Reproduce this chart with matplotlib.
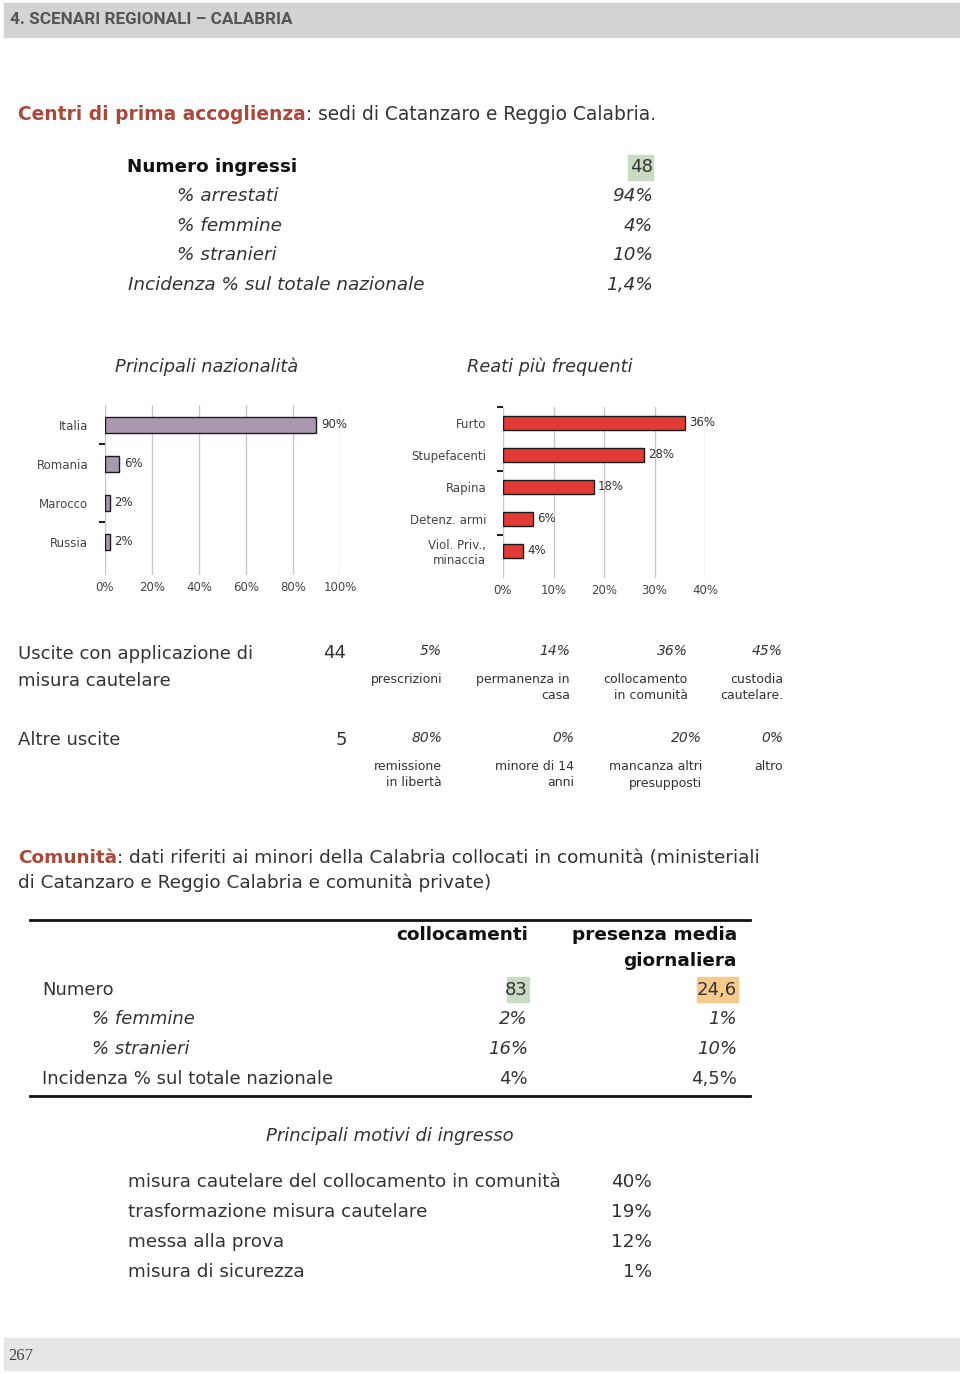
import matplotlib
matplotlib.use('Agg')
import matplotlib.pyplot as plt
from matplotlib.patches import Rectangle

plt.rcParams['font.family'] = ['DejaVu Sans']

W, H = 960, 1374

# ---- data ----
ingressi_labels = ['% arrestati', '% femmine', '% stranieri', 'Incidenza % sul totale nazionale']
ingressi_values = ['94%', '4%', '10%', '1,4%']
numero_ingressi = 48

naz_labels = ['Italia', 'Romania', 'Marocco', 'Russia']
naz_values = [90, 6, 2, 2]

reati_labels = ['Furto', 'Stupefacenti', 'Rapina', 'Detenz. armi', 'Viol. Priv.,\nminaccia']
reati_values = [36, 28, 18, 6, 4]

uscite_misura = 44
uscite_misura_pct = ['5%', '14%', '36%', '45%']
uscite_misura_lab = ['prescrizioni', 'permanenza in\ncasa', 'collocamento\nin comunità', 'custodia\ncautelare.']
altre_uscite = 5
altre_pct = ['80%', '0%', '20%', '0%']
altre_lab = ['remissione\nin libertà', 'minore di 14\nanni', 'mancanza altri\npresupposti', 'altro']

com_rows = ['Numero', '% femmine', '% stranieri', 'Incidenza % sul totale nazionale']
com_colloc = ['83', '2%', '16%', '4%']
com_presenza = ['24,6', '1%', '10%', '4,5%']

motivi_labels = ['misura cautelare del collocamento in comunità', 'trasformazione misura cautelare',
                 'messa alla prova', 'misura di sicurezza']
motivi_values = ['40%', '19%', '12%', '1%']

TXT = '#333333'
RED = '#A9493A'

fig = plt.figure(figsize=(W / 100, H / 100), dpi=100)


def fx(x):
    return x / W


def fy(y):
    return 1 - y / H


def txt(x, y, s, size=12.5, ha='left', va='center', **kw):
    kw.setdefault('color', TXT)
    return fig.text(fx(x), fy(y), s, fontsize=size, ha=ha, va=va, **kw)


def box(x0, y0, x1, y1, color):
    fig.patches.append(Rectangle((fx(x0), fy(y1)), fx(x1) - fx(x0), fy(y0) - fy(y1),
                                 transform=fig.transFigure, color=color, zorder=0))


# header / footer bands
box(4, 3, 960, 37, '#D3D3D3')
txt(10, 20, '4. SCENARI REGIONALI – CALABRIA', size=12.3, weight='bold', color='#555555',
    family=['Roboto', 'DejaVu Sans'])
box(4, 1338, 960, 1370, '#E6E6E7')
txt(8, 1356, '267', size=12, color='#444444', family=['Liberation Serif'])

# ---- Centri di prima accoglienza ----
t = txt(18, 115, 'Centri di prima accoglienza', size=13.4, weight='bold', color=RED)
fig.canvas.draw()
bb = t.get_window_extent()
txt(bb.x1, 115, ': sedi di Catanzaro e Reggio Calabria.', size=13.4, color=TXT)

txt(127, 167, 'Numero ingressi', size=13.2, weight='bold', color='#111111')
box(628, 155, 653, 180, '#C9DCC3')
txt(653, 167, str(numero_ingressi), size=13, ha='right')
ing_y = [196, 226, 255, 285]
for i, (lab, val) in enumerate(zip(ingressi_labels, ingressi_values)):
    x = 128 if i == 3 else 177
    txt(x, ing_y[i], lab, size=13.2, style='italic')
    txt(653, ing_y[i], val, size=13.2, style='italic', ha='right')

# ---- chart titles ----
txt(207, 367, 'Principali nazionalità', size=12.8, style='italic', ha='center')
txt(550, 367, 'Reati più frequenti', size=12.8, style='italic', ha='center')


def bar_chart(rect, labels, values, xmax, step, color, minor, ybot):
    ax = fig.add_axes(rect)
    pos = list(range(len(labels)))
    ax.barh(pos, [v / 100 for v in values], height=0.42, color=color,
            edgecolor='#1a1a1a', linewidth=1, zorder=3)
    for p, v in zip(pos, values):
        ax.text(v / 100 + xmax * 0.02, p, f'{v}%', fontsize=8.5, va='center', color='#333333')
    ax.set_xlim(0, xmax)
    ax.set_ylim(ybot, -0.5)
    ticks = [i * step for i in range(int(round(xmax / step)) + 1)]
    ax.set_xticks(ticks)
    ax.set_xticklabels([f'{round(t * 100)}%' for t in ticks], fontsize=8.5, color='#444444')
    ax.set_yticks(pos)
    ax.set_yticklabels(labels, fontsize=8.5, color='#444444')
    ax.set_yticks(minor, minor=True)
    ax.tick_params(axis='y', which='major', length=0, pad=12)
    ax.tick_params(axis='y', which='minor', length=4, width=1.5, color='#222222')
    ax.tick_params(axis='x', length=0, pad=4)
    ax.xaxis.grid(True, color='#C8C8C8', linewidth=1, zorder=0)
    for s in ax.spines.values():
        s.set_visible(False)
    ax.set_facecolor('none')
    return ax


# nationality: 0% at x=105, 100% at x=340 ; rows 39 px apart starting at 425
bar_chart([fx(105), fy(575), (340 - 105) / W, (575 - 405.5) / H], naz_labels, naz_values,
          1.0, 0.2, '#A898B0', [0.5, 2.5], 3.85)
# reati: 0% at x=503, 40% at x=705 ; rows 32 px apart starting at 423
bar_chart([fx(503), fy(578), (705 - 503) / W, (578 - 407) / H], reati_labels, reati_values,
          0.4, 0.1, '#E23A36', [-0.5, 1.5, 3.5], 4.85)

# ---- uscite ----
txt(18, 654, 'Uscite con applicazione di', size=13)
txt(18, 681, 'misura cautelare', size=13)
txt(335, 653, str(uscite_misura), size=13, ha='center')
col_r = [442, 570, 688, 783]
for x, p, lab in zip(col_r, uscite_misura_pct, uscite_misura_lab):
    txt(x, 651, p, size=10, style='italic', ha='right')
    txt(x, 673, lab, size=9, ha='right', va='top', multialignment='right', linespacing=1.35)

txt(18, 740, 'Altre uscite', size=13)
txt(341, 740, str(altre_uscite), size=13, ha='center')
col_r2 = [442, 574, 702, 783]
for x, p, lab in zip(col_r2, altre_pct, altre_lab):
    txt(x, 738, p, size=10, style='italic', ha='right')
    txt(x, 760, lab, size=9, ha='right', va='top', multialignment='right', linespacing=1.35)

# ---- Comunità ----
t = txt(18, 858, 'Comunità', size=13.3, weight='bold', color=RED)
fig.canvas.draw()
bb = t.get_window_extent()
txt(bb.x1, 858, ': dati riferiti ai minori della Calabria collocati in comunità (ministeriali', size=13.3)
txt(18, 883, 'di Catanzaro e Reggio Calabria e comunità private)', size=13.3)

fig.add_artist(plt.Line2D([fx(30), fx(750)], [fy(920), fy(920)], color='#111111', linewidth=2))
fig.add_artist(plt.Line2D([fx(30), fx(750)], [fy(1096), fy(1096)], color='#111111', linewidth=2))
txt(528, 935, 'collocamenti', size=13.3, weight='bold', ha='right', color='#111111')
txt(737, 935, 'presenza media', size=13.3, weight='bold', ha='right', color='#111111')
txt(737, 961, 'giornaliera', size=13.3, weight='bold', ha='right', color='#111111')
box(507, 977, 529, 1002, '#C9DCC3')
box(697, 977, 738, 1002, '#F6C98C')
com_y = [990, 1019, 1049, 1079]
for i, (lab, c, p) in enumerate(zip(com_rows, com_colloc, com_presenza)):
    it = 'italic' if i in (1, 2) else 'normal'
    x = 92 if i in (1, 2) else 42
    txt(x, com_y[i], lab, size=13, style=it)
    txt(528, com_y[i], c, size=13, style=it, ha='right')
    txt(737, com_y[i], p, size=13, style=it, ha='right')

# ---- motivi ----
txt(390, 1136, 'Principali motivi di ingresso', size=13, style='italic', ha='center')
mot_y = [1182, 1212, 1242, 1272]
for y, lab, v in zip(mot_y, motivi_labels, motivi_values):
    txt(128, y, lab, size=13.2)
    txt(652, y, v, size=13.2, ha='right')

fig.savefig('out.png', dpi=100)
